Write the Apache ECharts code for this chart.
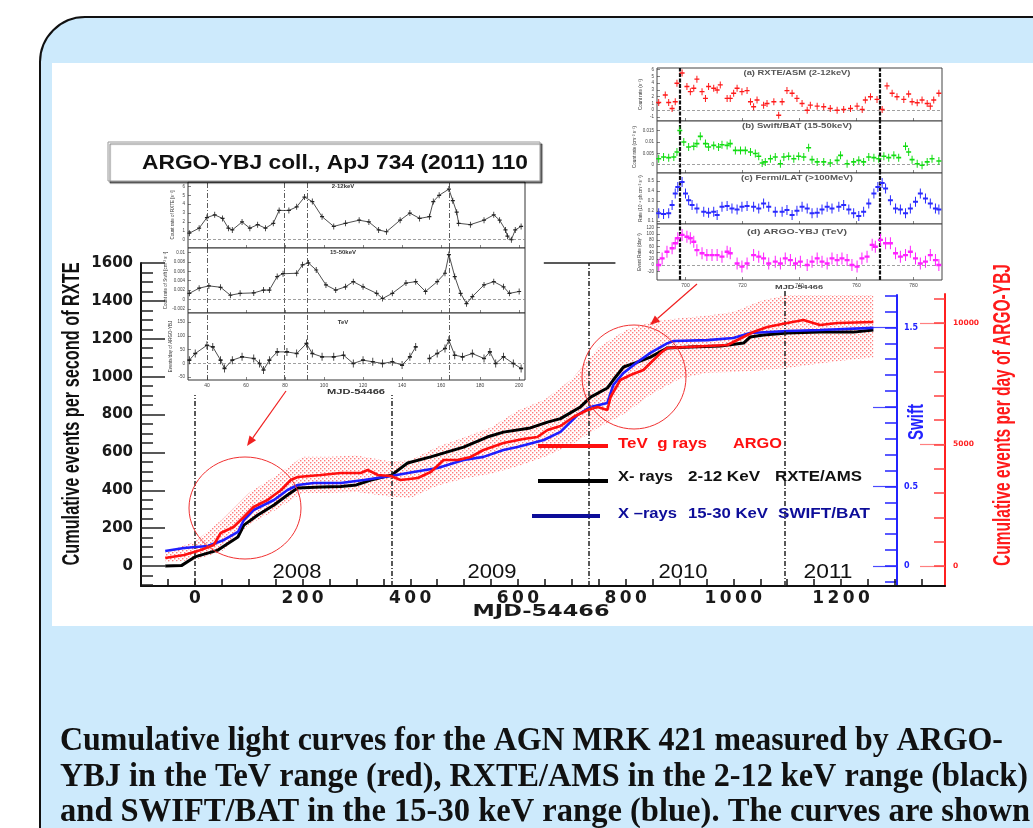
<!DOCTYPE html>
<html>
<head>
<meta charset="utf-8">
<script src="https://cdn.jsdelivr.net/npm/echarts@6/dist/echarts.min.js"></script>
<style>
html, body { margin: 0; padding: 0; background: #fff; width: 1033px; height: 828px; overflow: hidden; }
#frame { position: absolute; left: 39px; top: 16px; width: 1100px; height: 900px; background: #cdeafc; border: 2px solid #111; border-radius: 46px; }
#photo { position: absolute; left: 52px; top: 63px; width: 990px; height: 563px; background: #fff; }
#chart { position: absolute; left: 0; top: 0; width: 1033px; height: 828px; }
</style>
</head>
<body>
<div id="frame"></div>
<div id="photo"></div>
<div id="chart"></div>
<script>
// Cumulative light curves of Mrk 421 (ARGO-YBJ / RXTE / Swift) with two inset light-curve panels.

// ---- main plot: x = MJD-54466 ----
const BLACK_X = [-55, -25, 0, 43, 80, 91, 117, 147, 172, 191, 234, 271, 300, 327, 365, 395, 438, 499, 543, 573, 623, 655, 679, 716, 735, 766, 777, 796, 822, 846, 877, 920, 976, 1019, 1031, 1056, 1100, 1161, 1223, 1260]
const BLACK_Y = [0, 2, 48, 84, 153, 216, 269, 322, 375, 412, 417, 420, 428, 454, 480, 544, 576, 628, 681, 707, 729, 760, 778, 840, 892, 940, 982, 1051, 1077, 1103, 1151, 1156, 1162, 1177, 1209, 1220, 1230, 1235, 1235, 1246]

const BLUE_X = [-55, -20, 24, 54, 80, 91, 109, 147, 172, 191, 221, 271, 314, 364, 406, 451, 499, 536, 573, 599, 648, 679, 711, 735, 766, 777, 796, 822, 846, 877, 889, 952, 1000, 1031, 1100, 1161, 1260]
const BLUE_Y = [0.094, 0.113, 0.126, 0.164, 0.214, 0.289, 0.352, 0.415, 0.478, 0.509, 0.522, 0.522, 0.541, 0.566, 0.591, 0.616, 0.667, 0.686, 0.73, 0.748, 0.792, 0.843, 0.95, 1.0, 1.025, 1.138, 1.214, 1.283, 1.34, 1.4, 1.415, 1.42, 1.434, 1.465, 1.478, 1.484, 1.497]

const RED_X = [-55, -20, 11, 35, 48, 72, 91, 109, 135, 160, 178, 191, 234, 271, 308, 321, 340, 364, 382, 414, 438, 462, 488, 512, 536, 573, 610, 636, 655, 679, 703, 729, 748, 766, 772, 790, 809, 833, 846, 865, 877, 915, 989, 1037, 1063, 1100, 1130, 1161, 1193, 1260]
const RED_Y = [329, 453, 658, 864, 1358, 1605, 2016, 2428, 2716, 3128, 3539, 3663, 3745, 3827, 3827, 3950, 3745, 3704, 3539, 3621, 3868, 4362, 4362, 4485, 4774, 5062, 5226, 5309, 5597, 5760, 6132, 6420, 6543, 6420, 6955, 7654, 7860, 8066, 8354, 8765, 8971, 9012, 9095, 9630, 9835, 10000, 10123, 9918, 10000, 10041]

const BAND_X = [-55, 0, 50, 100, 150, 200, 250, 300, 365, 400, 450, 500, 550, 600, 650, 700, 750, 800, 850, 900, 950, 1000, 1050, 1100, 1150, 1200, 1260]
const BAND_LOW = [150, 250, 600, 1700, 2300, 3000, 3000, 3050, 2850, 2800, 3300, 3600, 3800, 4100, 4500, 5000, 5700, 6300, 7100, 7700, 7950, 7980, 8050, 8150, 8300, 8450, 8580]
const BAND_HIGH = [600, 1000, 1900, 3000, 3700, 4500, 4500, 4550, 4300, 4350, 4900, 5300, 5700, 6400, 6850, 7700, 9000, 9700, 10050, 10200, 10300, 10450, 10900, 11150, 11150, 11150, 11150]

const X_TICKS = []
for (let v = -100; v <= 1350; v += 50) X_TICKS.push(v)
const X_LABELS = [0, 200, 400, 600, 800, 1000, 1200]
const RXTE_LABELS = [0, 200, 400, 600, 800, 1000, 1200, 1400, 1600]
const RXTE_MINOR = []
for (let v = -100; v <= 1600; v += 50) RXTE_MINOR.push(v)
const SWIFT_MAJOR = [0, 0.5, 1, 1.5]
const SWIFT_LABELS = [0, 0.5, 1.5]
const SWIFT_MINOR = []
for (let i = -1; i <= 17; i++) SWIFT_MINOR.push(i / 10)
const ARGO_LABELS = [0, 5000, 10000]
const ARGO_MINOR = [0, 1000, 2000, 3000, 4000, 5000, 6000, 7000, 8000, 9000, 10000, 11000]
const YEAR_MARKS = [0, 365, 731, 1096]
const YEARS = ['2008', '2009', '2010', '2011']

// ---- top-left inset (MJD-54466, 2008 flare) ----
const IN1_X1 = [31, 36, 40, 44, 48, 51, 53, 58, 62, 66, 70, 74, 77, 82, 86, 90, 94, 99, 105, 111, 118, 123, 128, 132, 139, 144, 149, 154, 156, 159, 164, 166, 168, 169, 175, 182, 187, 190, 193, 194, 196, 198, 201]
const IN1_Y1 = [0.74, 1.3, 2.5, 2.8, 2.4, 1.3, 1.1, 2.0, 1.3, 1.7, 1.3, 1.85, 3.3, 3.3, 3.7, 4.8, 4.3, 2.6, 1.5, 1.85, 2.2, 2.0, 1.1, 0.9, 2.2, 3.0, 2.4, 2.6, 4.3, 5.0, 5.7, 4.4, 3.1, 1.85, 1.7, 2.2, 2.8, 2.2, 1.1, 0.4, 0, 1.1, 1.5]
const IN1_X2 = [31, 36, 41, 47, 52, 57, 64, 69, 72, 76, 79, 86, 89, 92, 96, 101, 106, 111, 115, 120, 127, 130, 135, 142, 147, 152, 158, 162, 164, 167, 170, 173, 176, 182, 187, 192, 195, 200]
const IN1_Y2 = [0.0013, 0.0024, 0.0029, 0.0026, 0.0009, 0.0013, 0.0014, 0.002, 0.002, 0.0049, 0.0055, 0.0056, 0.0074, 0.0078, 0.0063, 0.0031, 0.002, 0.0027, 0.0038, 0.0027, 0.0013, 0.0002, 0.0013, 0.0035, 0.0038, 0.0017, 0.0038, 0.0056, 0.0096, 0.0049, 0.0013, -0.0009, 0.0006, 0.0031, 0.0038, 0.0027, 0.0013, 0.0017]
const IN1_X3 = [31, 34, 40, 43, 47, 49, 53, 58, 64, 67, 69, 72, 76, 81, 86, 91, 94, 99, 105, 110, 115, 120, 125, 130, 135, 140, 144, 147, 150, 154, 158, 162, 164, 167, 171, 176, 182, 185, 188, 192, 197, 201]
const IN1_Y3 = [12, 36, 66, 60, 12, -18, 12, 24, 18, 0, -24, 12, 42, 42, 36, 72, 36, 24, 24, 30, 0, 12, 6, 0, 6, -6, 24, 60, null, 18, 36, 54, 84, 30, 24, 36, 18, 42, 0, 24, 0, -18]
const IN1_FLARES = [40, 79.5, 91.3, 164.4]
const IN1_X_LABELS = [40, 60, 80, 100, 120, 140, 160, 180, 200]

// ---- top-right inset (2010 flares) ----
const IN2_XA = [690.6, 692.9, 694.1, 695.3, 696.4, 697.0, 698.8, 700.5, 701.7, 702.9, 704.0, 705.8, 707.0, 708.1, 709.9, 711.1, 712.2, 714.6, 715.7, 716.9, 718.1, 719.8, 721.6, 722.8, 723.9, 725.1, 727.4, 728.6, 731.0, 732.7, 733.9, 735.6, 737.4, 739.1, 740.9, 742.7, 743.8, 746.2, 748.5, 750.8, 753.2, 755.5, 757.9, 760.2, 762.0, 763.1, 764.9, 767.2, 769.0, 770.7, 772.5, 774.2, 776.6, 778.3, 779.5, 781.3, 783.0, 784.8, 785.9, 787.1, 788.9]
const IN2_YA = [1.15, 2.25, 1.15, 0.25, 1.25, 4.0, 5.5, 3.5, 2.75, 3.25, 4.6, 2.75, 1.75, 3.5, 3.25, 3.0, 3.75, 1.75, 1.75, 2.5, 3.25, 2.75, 2.9, 1.25, 0.5, 1.5, 0.75, 1.0, 1.25, -0.75, 1.25, 2.9, 2.5, 1.75, 1.0, 0, 0.75, 0.6, 0.5, 0.25, 0, 0.1, 0.25, 0.6, 0.1, 1.5, 2.0, 1.6, 0.1, 3.6, 2.5, 2.0, 1.6, 2.4, 1.25, 1.1, 1.5, 1.0, 0.6, 1.5, 2.5]
const IN2_XB = [690.6, 692.3, 694.1, 695.9, 697.0, 698.0, 699.4, 701.1, 702.9, 704.0, 705.2, 707.0, 708.1, 709.9, 711.6, 712.8, 714.6, 715.7, 717.5, 719.3, 721.0, 722.8, 724.5, 725.7, 726.9, 728.0, 729.8, 731.5, 733.3, 734.5, 736.2, 738.0, 739.7, 741.5, 743.2, 744.4, 746.2, 748.5, 750.8, 753.2, 754.4, 756.7, 759.0, 760.8, 762.5, 764.3, 766.1, 767.8, 769.6, 771.3, 773.1, 774.8, 777.2, 778.3, 779.5, 781.3, 783.0, 784.8, 786.5, 788.9]
const IN2_YB = [0.0026, 0.0034, 0.0031, 0.0034, 0.0056, 0.0151, 0.01, 0.0078, 0.0081, 0.0093, 0.0125, 0.0093, 0.0078, 0.0085, 0.0078, 0.0088, 0.0085, 0.0093, 0.0063, 0.0063, 0.0063, 0.0056, 0.0049, 0.0037, 0.0007, 0.0012, 0.0026, 0.0034, 0.0004, 0.0034, 0.0037, 0.0026, 0.0037, 0.0034, 0.0075, 0.0022, 0.0012, 0.0012, 0.0007, 0.0019, 0.0041, 0.0004, 0.0012, 0.0019, 0.0012, 0.0034, 0.0031, 0.0026, 0.0037, 0.0031, 0.0041, 0.0031, 0.0081, 0.0056, 0.0022, 0.0004, -0.0003, 0.0012, 0.0026, 0.0016]
const IN2_XC = [690.6, 692.3, 694.1, 695.3, 696.4, 697.3, 698.8, 700.0, 701.1, 702.3, 704.0, 706.4, 708.1, 709.9, 711.1, 712.8, 714.6, 716.3, 718.1, 719.8, 721.6, 723.9, 725.7, 727.4, 729.2, 731.5, 733.9, 735.6, 737.4, 739.1, 740.9, 742.7, 744.4, 746.2, 747.9, 749.7, 751.4, 753.8, 755.5, 757.3, 759.0, 760.8, 762.5, 764.3, 766.1, 767.5, 769.0, 770.2, 771.9, 773.7, 775.4, 777.2, 778.9, 780.7, 782.4, 784.2, 785.9, 787.7, 788.9]
const IN2_YC = [0.177, 0.17, 0.177, 0.26, 0.377, 0.443, 0.493, 0.377, 0.31, 0.26, 0.227, 0.193, 0.183, 0.193, 0.16, 0.243, 0.25, 0.227, 0.217, 0.243, 0.25, 0.243, 0.227, 0.277, 0.243, 0.193, 0.193, 0.21, 0.16, 0.203, 0.243, 0.227, 0.177, 0.183, 0.217, 0.243, 0.227, 0.243, 0.26, 0.217, 0.177, 0.15, 0.193, 0.277, 0.377, 0.443, 0.483, 0.427, 0.31, 0.227, 0.217, 0.177, 0.227, 0.293, 0.377, 0.327, 0.277, 0.227, 0.217]
const IN2_XD = [690.6, 691.8, 693.5, 695.3, 696.4, 697.3, 698.8, 700.5, 701.7, 702.9, 704.0, 705.8, 707.5, 709.3, 711.1, 712.8, 714.6, 715.7, 718.1, 719.8, 721.6, 723.9, 725.7, 727.4, 729.2, 731.5, 733.3, 735.0, 736.8, 738.6, 740.3, 742.7, 744.4, 746.2, 747.9, 749.7, 751.4, 753.2, 754.9, 756.7, 758.4, 760.2, 761.9, 763.7, 765.5, 766.6, 768.4, 770.2, 771.9, 773.7, 775.4, 777.2, 778.9, 780.7, 782.4, 784.2, 785.9, 787.7, 788.9]
const IN2_YD = [0, 21.5, 43, 54, 70, 86, 97, 91, 86, 75, 48, 38, 32, 32, 32, 27, 43, 38, 5, -5, 5, 32, 27, 21.5, 5, 11, 5, 21.5, 16, 5, 11, 0, 11, 21.5, 11, 5, 21.5, 16, 21.5, 16, 0, -5, 21.5, 27, 65, 59, 81, 70, 70, 38, 27, 32, 43, 21.5, 5, 11, 32, 16, 0]
const IN2_FLARES = [698.0, 768.2]
const IN2_X_LABELS = [700, 720, 740, 760, 780]

const CAPTION = [
  'Cumulative light curves for the AGN MRK 421 measured by ARGO-',
  'YBJ in the TeV range (red), RXTE/AMS in the 2-12 keV range (black)',
  'and SWIFT/BAT in the 15-30 keV range (blue). The curves are shown',
]

const zip = (xs, ys) => xs.map((x, i) => [x, ys[i]])

// ---- helpers ----
const measure = document.createElement('canvas').getContext('2d')
function fit(text, font, width) {
  measure.font = font
  return width / measure.measureText(text).width
}
function txt(text, x, y, font, fill, o = {}) {
  const align = o.align || 'center'
  return {
    type: 'text', x, y, z: 100, silent: true,
    rotation: o.rotation || 0,
    scaleX: o.width ? fit(text, font, o.width) : 1,
    style: { text, font, fill, textAlign: align, align, textVerticalAlign: 'middle', verticalAlign: 'middle' },
  }
}
function line(x1, y1, x2, y2, stroke, lineWidth) {
  return { type: 'line', z: 100, silent: true, shape: { x1, y1, x2, y2 }, style: { stroke, lineWidth } }
}
function arrow(x1, y1, x2, y2, color) {
  const a = Math.atan2(y2 - y1, x2 - x1)
  const L = 10, W = 4
  const bx = x2 - L * Math.cos(a), by = y2 - L * Math.sin(a)
  return [
    line(x1, y1, bx, by, color, 1.2),
    { type: 'polygon', z: 100, silent: true,
      shape: { points: [[x2, y2], [bx + W * Math.sin(a), by - W * Math.cos(a)], [bx - W * Math.sin(a), by + W * Math.cos(a)]] },
      style: { fill: color } },
  ]
}

// dotted hatch used for the ARGO error band
const dots = document.createElement('canvas')
dots.width = 4; dots.height = 4
const dctx = dots.getContext('2d')
dctx.fillStyle = 'rgba(255,70,70,0.7)'
dctx.fillRect(0, 0, 1.4, 1.4)
dctx.fillRect(2, 2, 1.4, 1.4)

const CROSS = 'path://M4,0H6V4H10V6H6V10H4V6H0V4H4Z'
const AX_FONT = { fontFamily: 'DejaVu Sans', fontWeight: 'bold' }
const MAIN_X_MIN = -100, MAIN_X_MAX = 1393
const SWIFT_X_MAX = MAIN_X_MIN + (MAIN_X_MAX - MAIN_X_MIN) * 756 / 804
const plain = v => String(v)

function hiddenX(grid, min, max) {
  return { type: 'value', gridIndex: grid, min, max, show: false }
}
function insetX(grid, min, max, labels, show) {
  return {
    type: 'value', gridIndex: grid, min, max,
    axisLine: { show: false, onZero: false }, splitLine: { show: false },
    axisTick: { show: true, inside: true, length: 3, customValues: labels, lineStyle: { color: '#333', width: 0.6 } },
    axisLabel: { show, customValues: labels, fontSize: 5, color: '#444', margin: 3, formatter: plain },
  }
}
function insetY(grid, min, max, labels, name, gap) {
  return {
    type: 'value', gridIndex: grid, min, max,
    axisLine: { show: false, onZero: false }, splitLine: { show: false },
    axisTick: { show: true, inside: true, length: 3, customValues: labels, lineStyle: { color: '#333', width: 0.6 } },
    axisLabel: { customValues: labels, fontSize: 4.5, color: '#444', margin: 3, formatter: plain },
    name, nameLocation: 'middle', nameGap: gap, nameTextStyle: { fontSize: 4.5, color: '#333' },
  }
}
function vmark(xs, zero, style) {
  const data = xs.map(x => ({ xAxis: x, lineStyle: style }))
  if (zero) data.push({ yAxis: 0, lineStyle: { color: '#888', width: 0.8, type: [3, 2] } })
  return { silent: true, symbol: 'none', label: { show: false }, data }
}
function insetSeries(x, y, xi, yi, color, size, lineWidth, mark) {
  return {
    type: 'line', xAxisIndex: xi, yAxisIndex: yi, data: zip(x, y), z: 20,
    symbol: CROSS, symbolSize: size, showSymbol: true,
    itemStyle: { color }, lineStyle: { width: lineWidth, color },
    connectNulls: false, animation: false, markLine: mark,
  }
}

const dashDot = [5, 2, 1, 2]
const rxteTopOf = { 0: 903, 365: 903, 731: 1600, 1096: 1457 }

const chart = echarts.init(document.getElementById('chart'))

const option = {
  animation: false,
  grid: [
    { left: 141, top: 263, width: 804, height: 323 },            // 0 main, RXTE axis
    { left: 141, top: 295, width: 756, height: 291 },            // 1 Swift axis
    { left: 141, top: 294, width: 804, height: 292 },            // 2 ARGO axis
    { left: 188, top: 182, width: 337, height: 66, show: true, backgroundColor: '#fff', borderColor: '#333', borderWidth: 1 },
    { left: 188, top: 248, width: 337, height: 65, show: true, backgroundColor: '#fff', borderColor: '#333', borderWidth: 1 },
    { left: 188, top: 313, width: 337, height: 67, show: true, backgroundColor: '#fff', borderColor: '#333', borderWidth: 1 },
    { left: 657, top: 68, width: 285, height: 53, show: true, backgroundColor: '#fff', borderColor: '#444', borderWidth: 1 },
    { left: 657, top: 121, width: 285, height: 52, show: true, backgroundColor: '#fff', borderColor: '#444', borderWidth: 1 },
    { left: 657, top: 173, width: 285, height: 51, show: true, backgroundColor: '#fff', borderColor: '#444', borderWidth: 1 },
    { left: 657, top: 224, width: 285, height: 56, show: true, backgroundColor: '#fff', borderColor: '#444', borderWidth: 1 },
  ],
  xAxis: [
    {
      type: 'value', gridIndex: 0, min: MAIN_X_MIN, max: MAIN_X_MAX,
      axisLine: { show: true, onZero: false, lineStyle: { color: '#111', width: 2 } },
      axisTick: { show: true, inside: true, length: 7, customValues: X_TICKS, lineStyle: { color: '#111', width: 1.5 } },
      axisLabel: {
        customValues: X_LABELS, ...AX_FONT, fontSize: 17, color: '#1a1a1a', margin: 4,
        formatter: v => String(v).split('').join('\u2009'),
      },
      splitLine: { show: false },
    },
    hiddenX(1, MAIN_X_MIN, SWIFT_X_MAX),
    hiddenX(2, MAIN_X_MIN, MAIN_X_MAX),
    insetX(3, 30.3, 203, IN1_X_LABELS, false),
    insetX(4, 30.3, 203, IN1_X_LABELS, false),
    insetX(5, 30.3, 203, IN1_X_LABELS, true),
    insetX(6, 690, 790, IN2_X_LABELS, false),
    insetX(7, 690, 790, IN2_X_LABELS, false),
    insetX(8, 690, 790, IN2_X_LABELS, false),
    insetX(9, 690, 790, IN2_X_LABELS, true),
  ],
  yAxis: [
    {
      type: 'value', gridIndex: 0, min: -105.6, max: 1600, position: 'left',
      axisLine: { show: true, onZero: false, lineStyle: { color: '#111', width: 2 } },
      axisTick: { show: true, inside: true, length: 24, customValues: RXTE_LABELS, lineStyle: { color: '#222', width: 1.5 } },
      axisLabel: { customValues: RXTE_LABELS, ...AX_FONT, fontSize: 15, color: '#1a1a1a', margin: 8, formatter: plain },
      splitLine: { show: false },
    },
    {
      type: 'value', gridIndex: 0, min: -105.6, max: 1600, position: 'left',
      axisLine: { show: false, onZero: false },
      axisTick: { show: true, inside: true, length: 12, customValues: RXTE_MINOR, lineStyle: { color: '#222', width: 1.5 } },
      axisLabel: { show: false }, splitLine: { show: false },
    },
    {
      type: 'value', gridIndex: 1, min: -0.1258, max: 1.704, position: 'right',
      axisLine: { show: true, onZero: false, lineStyle: { color: '#2323ff', width: 2 } },
      axisTick: { show: true, inside: true, length: 24, customValues: SWIFT_MAJOR, lineStyle: { color: '#4a4aff', width: 1.2 } },
      axisLabel: { customValues: SWIFT_LABELS, ...AX_FONT, fontSize: 8, color: '#2323ff', margin: 7, formatter: plain },
      splitLine: { show: false },
    },
    {
      type: 'value', gridIndex: 1, min: -0.1258, max: 1.704, position: 'right',
      axisLine: { show: false, onZero: false },
      axisTick: { show: true, inside: true, length: 12, customValues: SWIFT_MINOR, lineStyle: { color: '#2323ff', width: 1.5 } },
      axisLabel: { show: false }, splitLine: { show: false },
    },
    {
      type: 'value', gridIndex: 2, min: -823, max: 11193, position: 'right',
      axisLine: { show: true, onZero: false, lineStyle: { color: '#ff2020', width: 2 } },
      axisTick: { show: true, inside: true, length: 25, customValues: ARGO_LABELS, lineStyle: { color: '#ff8080', width: 1.2 } },
      axisLabel: { customValues: ARGO_LABELS, ...AX_FONT, fontSize: 7.5, color: '#ff2020', margin: 8, formatter: plain },
      splitLine: { show: false },
    },
    {
      type: 'value', gridIndex: 2, min: -823, max: 11193, position: 'right',
      axisLine: { show: false, onZero: false },
      axisTick: { show: true, inside: true, length: 11, customValues: ARGO_MINOR, lineStyle: { color: '#ff4040', width: 1.5 } },
      axisLabel: { show: false }, splitLine: { show: false },
    },
    insetY(3, -0.93, 6.5, [0, 1, 2, 3, 4, 5, 6], 'Count rate of RXTE [s\u207B\u00B9]', 13),
    insetY(4, -0.0029, 0.011, [-0.002, 0, 0.002, 0.004, 0.006, 0.008, 0.01], 'Count rate of Swift [cm\u207B\u00B2 s\u207B\u00B9]', 20),
    insetY(5, -60, 183, [-50, 0, 50, 100, 150], 'Events/day of ARGO-YBJ', 15),
    insetY(6, -1.6, 6.25, [-1, 0, 1, 2, 3, 4, 5, 6], 'Count rate (s\u207B\u00B9)', 14),
    insetY(7, -0.0037, 0.0193, [0, 0.005, 0.01, 0.015], 'Count rate (cm\u207B\u00B2 s\u207B\u00B9)', 20),
    insetY(8, 0.07, 0.583, [0.1, 0.2, 0.3, 0.4, 0.5], 'Rate (10\u207B\u2076 ph cm\u207B\u00B2 s\u207B\u00B9)', 14),
    insetY(9, -48, 132, [-20, 0, 20, 40, 60, 80, 100, 120], 'Event Rate (day\u207B\u00B9)', 14),
  ],
  series: [
    {
      // ARGO uncertainty band: one polygon between the high and low edges
      name: 'band', type: 'custom', xAxisIndex: 2, yAxisIndex: 4, z: 1, silent: true,
      data: [[BAND_X[0], BAND_LOW[0]]],
      renderItem: (params, api) => {
        const top = BAND_X.map((x, i) => api.coord([x, BAND_HIGH[i]]))
        const bottom = BAND_X.map((x, i) => api.coord([x, BAND_LOW[i]])).reverse()
        return { type: 'polygon', shape: { points: top.concat(bottom) }, style: { fill: { image: dots, repeat: 'repeat' } } }
      },
    },
    {
      name: 'RXTE/AMS', type: 'line', xAxisIndex: 0, yAxisIndex: 0, z: 3,
      data: zip(BLACK_X, BLACK_Y), symbol: 'none', lineStyle: { color: '#000', width: 3 },
      markLine: {
        silent: true, symbol: 'none', label: { show: false },
        lineStyle: { color: '#222', width: 1.5, type: dashDot },
        data: YEAR_MARKS.map(x => [{ coord: [x, -105.6] }, { coord: [x, rxteTopOf[x]] }])
          .concat([[{ coord: [648, 1600], lineStyle: { type: 'solid', width: 1.5, color: '#222' } }, { coord: [781, 1600] }]]),
      },
    },
    {
      name: 'SWIFT/BAT', type: 'line', xAxisIndex: 1, yAxisIndex: 2, z: 4,
      data: zip(BLUE_X, BLUE_Y), symbol: 'none', lineStyle: { color: '#1f1fff', width: 2.6 },
    },
    {
      name: 'ARGO', type: 'line', xAxisIndex: 2, yAxisIndex: 4, z: 5,
      data: zip(RED_X, RED_Y), symbol: 'none', lineStyle: { color: '#ff1010', width: 2.6 },
    },
    insetSeries(IN1_X1, IN1_Y1, 3, 6, '#222', [4, 6], 0.8, vmark(IN1_FLARES, true, { color: '#333', width: 0.8, type: dashDot })),
    insetSeries(IN1_X2, IN1_Y2, 4, 7, '#222', [4, 6], 0.8, vmark(IN1_FLARES, true, { color: '#333', width: 0.8, type: dashDot })),
    insetSeries(IN1_X3, IN1_Y3, 5, 8, '#222', [4, 8], 0.8, vmark(IN1_FLARES, true, { color: '#333', width: 0.8, type: dashDot })),
    insetSeries(IN2_XA, IN2_YA, 6, 9, '#ff1a1a', [5, 7], 0, vmark(IN2_FLARES, true, { color: '#111', width: 2.2, type: [4, 1.5] })),
    insetSeries(IN2_XB, IN2_YB, 7, 10, '#12dd12', [5, 8], 0, vmark(IN2_FLARES, true, { color: '#111', width: 2.2, type: [4, 1.5] })),
    insetSeries(IN2_XC, IN2_YC, 8, 11, '#2a2aff', [5, 10], 0, vmark(IN2_FLARES, false, { color: '#111', width: 2.2, type: [4, 1.5] })),
    insetSeries(IN2_XD, IN2_YD, 9, 12, '#ff22ff', [5, 12], 0, vmark(IN2_FLARES, true, { color: '#111', width: 2.2, type: [4, 1.5] })),
  ],
}

const SANS = '"Liberation Sans", Arial, sans-serif'
const graphics = [
  // axis titles
  txt('Cumulative events per second of RXTE', 73, 414, 'bold 23px ' + SANS, '#111', { rotation: Math.PI / 2, width: 303 }),
  txt('Cumulative events per day of ARGO-YBJ', 1004, 415, 'bold 23px ' + SANS, '#ff1a1a', { rotation: Math.PI / 2, width: 302 }),
  txt('Swift', 917, 422, 'bold 22px ' + SANS, '#2323ff', { rotation: Math.PI / 2, width: 36 }),
  txt('MJD-54466', 541, 612, 'bold 16px "DejaVu Sans"', '#1a1a1a', { width: 137 }),
  // year labels
  ...YEARS.map((y, i) => txt(y, [297, 492, 683, 828][i], 572, '21px ' + SANS, '#111', { width: 49 })),
  // legend
  line(538, 446, 608, 446, '#ff1010', 4),
  line(538, 481, 608, 481, '#000', 4),
  line(532, 516, 600, 516, '#0d0d99', 4),
  txt('TeV  g rays', 618, 444, 'bold 15px ' + SANS, '#ff1010', { align: 'left', width: 89 }),
  txt('ARGO', 733, 444, 'bold 15px ' + SANS, '#ff1010', { align: 'left', width: 49 }),
  txt('X- rays', 618, 477, 'bold 15px ' + SANS, '#111', { align: 'left', width: 55 }),
  txt('2-12 KeV', 688, 477, 'bold 15px ' + SANS, '#111', { align: 'left', width: 72 }),
  txt('RXTE/AMS', 775, 477, 'bold 15px ' + SANS, '#111', { align: 'left', width: 87 }),
  txt('X \u2013rays', 618, 514, 'bold 15px ' + SANS, '#0d0d99', { align: 'left', width: 59 }),
  txt('15-30 KeV', 688, 514, 'bold 15px ' + SANS, '#0d0d99', { align: 'left', width: 80 }),
  txt('SWIFT/BAT', 778, 514, 'bold 15px ' + SANS, '#0d0d99', { align: 'left', width: 92 }),
  // highlight circles and arrows
  { type: 'ellipse', z: 100, silent: true, shape: { cx: 245, cy: 508, rx: 56, ry: 51 }, style: { fill: 'none', stroke: '#f03030', lineWidth: 1 } },
  { type: 'ellipse', z: 100, silent: true, shape: { cx: 634, cy: 377, rx: 52, ry: 52 }, style: { fill: 'none', stroke: '#f03030', lineWidth: 1 } },
  ...arrow(286, 391, 247, 446, '#f02020'),
  ...arrow(697, 284, 650, 325, '#f02020'),
  // top-left inset labels
  { type: 'rect', z: 100, silent: true, shape: { x: 108, y: 142, width: 432, height: 39 },
    style: { fill: '#fff', stroke: '#999', lineWidth: 1, shadowColor: 'rgba(0,0,0,0.55)', shadowOffsetX: 2, shadowOffsetY: 2, shadowBlur: 1 } },
  { ...txt('ARGO-YBJ coll., ApJ 734 (2011) 110', 335, 163, 'bold 21px ' + SANS, '#111', { width: 386 }), z: 101 },
  txt('2-12keV', 343, 186, 'bold 6px ' + SANS, '#333'),
  txt('15-50keV', 343, 252, 'bold 6px ' + SANS, '#333'),
  txt('TeV', 343, 322, 'bold 6px ' + SANS, '#333'),
  txt('MJD-54466', 356, 392, 'bold 7px ' + SANS, '#333', { width: 58 }),
  // top-right inset labels
  txt('(a) RXTE/ASM (2-12keV)', 797, 73, 'bold 7px ' + SANS, '#555', { width: 107 }),
  txt('(b) Swift/BAT (15-50keV)', 797, 126, 'bold 7px ' + SANS, '#555', { width: 110 }),
  txt('(c) Fermi/LAT (>100MeV)', 797, 178, 'bold 7px ' + SANS, '#555', { width: 112 }),
  txt('(d) ARGO-YBJ (TeV)', 797, 232, 'bold 7px ' + SANS, '#555', { width: 100 }),
  txt('MJD-54466', 799, 287, 'bold 6px ' + SANS, '#444', { width: 48 }),
  // caption
  ...CAPTION.map((t, i) => txt(t, 60, [741, 777, 812][i], 'bold 33px "Liberation Serif", serif', '#111',
    { align: 'left', width: [943, 968, 970][i] })),
]
option.graphic = { elements: graphics }

chart.setOption(option)
</script>
</body>
</html>
